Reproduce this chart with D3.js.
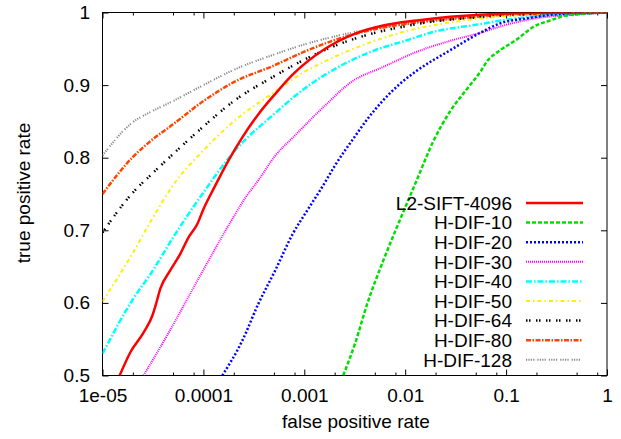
<!DOCTYPE html>
<html>
<head>
<meta charset="utf-8">
<script src="https://cdn.jsdelivr.net/npm/d3@7"></script>
<style>
  html, body { margin: 0; padding: 0; background: #fff; }
  svg { display: block; font-family: "Liberation Sans", Arial, Helvetica, sans-serif; }
</style>
</head>
<body>
<svg id="chart" width="621" height="439"></svg>
<script>
// ---------------- data ----------------
const seriesNames = ["L2-SIFT-4096", "H-DIF-10", "H-DIF-20", "H-DIF-30", "H-DIF-40", "H-DIF-50", "H-DIF-64", "H-DIF-80", "H-DIF-128"];

const xTickValues = [1e-5, 1e-4, 1e-3, 1e-2, 1e-1, 1];
const xTickLabels = ["1e-05", "0.0001", "0.001", "0.01", "0.1", "1"];
const yTickValues = [0.5, 0.6, 0.7, 0.8, 0.9, 1.0];
const yTickLabels = ["0.5", "0.6", "0.7", "0.8", "0.9", "1"];

const fprCommon = [1e-5, 2e-5, 3e-5, 5e-5, 1e-4, 2e-4, 5e-4, 1e-3, 2e-3, 5e-3, 1e-2, 2e-2, 5e-2, 0.1, 0.2, 0.5, 1];
const tpr128 = [0.803, 0.849, 0.863, 0.878, 0.900, 0.921, 0.942, 0.956, 0.967, 0.978, 0.984, 0.990, 0.994, 0.997, 0.998, 0.999, 1.0];
const tpr80  = [0.750, 0.801, 0.823, 0.846, 0.878, 0.904, 0.927, 0.946, 0.962, 0.977, 0.984, 0.989, 0.994, 0.997, 0.998, 0.999, 1.0];
const tpr64  = [0.697, 0.752, 0.776, 0.805, 0.843, 0.878, 0.912, 0.935, 0.954, 0.972, 0.981, 0.988, 0.993, 0.996, 0.998, 0.999, 1.0];
const tpr50  = [0.602, 0.669, 0.712, 0.762, 0.810, 0.850, 0.890, 0.918, 0.939, 0.961, 0.974, 0.983, 0.991, 0.995, 0.998, 0.999, 1.0];
const tpr40  = [0.530, 0.605, 0.640, 0.690, 0.752, 0.808, 0.860, 0.895, 0.922, 0.948, 0.961, 0.974, 0.983, 0.990, 0.995, 0.998, 1.0];

const fprL2 = [1.48e-5, 1.89e-5, 2.55e-5, 3.13e-5, 3.35e-5, 3.75e-5, 4.71e-5, 5.92e-5, 7.1e-5, 8.73e-5, 1e-4, 1.26e-4, 1.77e-4, 2.43e-4, 3.51e-4, 5.16e-4, 7.61e-4, 1.61e-3, 3.2e-3, 6.05e-3, 1.31e-2, 2.79e-2, 5.53e-2, 0.138, 1];
const tprL2 = [0.500, 0.532, 0.559, 0.583, 0.596, 0.620, 0.645, 0.668, 0.690, 0.709, 0.729, 0.757, 0.796, 0.828, 0.860, 0.888, 0.914, 0.950, 0.971, 0.982, 0.989, 0.994, 0.997, 0.999, 1.0];

const fpr30 = [2.55e-5, 4.4e-5, 9.33e-5, 1.85e-4, 2.61e-4, 3.51e-4, 5.16e-4, 7.61e-4, 1.61e-3, 2.9e-3, 6.05e-3, 1.31e-2, 2.79e-2, 5.53e-2, 0.1, 0.198, 0.493, 1];
const tpr30 = [0.500, 0.556, 0.638, 0.711, 0.745, 0.769, 0.803, 0.827, 0.872, 0.904, 0.925, 0.946, 0.961, 0.972, 0.983, 0.992, 0.997, 1.0];

const fpr20 = [1.54e-4, 2.43e-4, 3.51e-4, 5.16e-4, 7.61e-4, 1.1e-3, 1.51e-3, 2.03e-3, 3.2e-3, 4.21e-3, 6.05e-3, 8.91e-3, 1.31e-2, 2.79e-2, 5.53e-2, 8.73e-2, 0.161, 0.343, 1];
const tpr20 = [0.500, 0.548, 0.599, 0.645, 0.694, 0.730, 0.760, 0.790, 0.830, 0.853, 0.879, 0.902, 0.920, 0.948, 0.972, 0.985, 0.992, 0.998, 1.0];

const fpr10 = [2.43e-3, 3.2e-3, 4.21e-3, 6.05e-3, 8.91e-3, 1.31e-2, 1.89e-2, 2.79e-2, 4.11e-2, 5.53e-2, 6.49e-2, 8.73e-2, 0.128, 0.185, 0.273, 0.402, 0.679, 1];
const tpr10 = [0.500, 0.545, 0.599, 0.658, 0.715, 0.770, 0.822, 0.864, 0.895, 0.918, 0.933, 0.948, 0.963, 0.980, 0.989, 0.996, 0.999, 1.0];

// ---------------- styles ----------------
const seriesColors = ["#ff0000", "#00e000", "#0000ff", "#ff00ff", "#00ffff", "#ffee00", "#000000", "#ff4500", "#888888"];
const seriesDash = ["", "4,2", "2,2", "1,1", "6,2,1.5,2", "4,3,1.5,3", "1.5,1.5,1.5,5.5", "5,1.5,1.5,1.5", "1.2,1.2,1.2,1.2,1.2,1.2,1.2,3"];
const seriesWidth = [2.5, 2.5, 2.5, 2, 2.5, 2, 2.5, 2.5, 2];

const seriesData = [
  [fprL2, tprL2], [fpr10, tpr10], [fpr20, tpr20], [fpr30, tpr30],
  [fprCommon, tpr40], [fprCommon, tpr50], [fprCommon, tpr64], [fprCommon, tpr80], [fprCommon, tpr128]
].map(([xs, ys]) => xs.map((x, i) => ({ x, y: ys[i] })));

// ---------------- chart ----------------
const svg = d3.select("#chart");
const L = 102.5, R = 607, T = 12.5, B = 375.5;
const x = d3.scaleLog().domain([1e-5, 1]).range([L, R]);
const y = d3.scaleLinear().domain([0.5, 1]).range([B, T]);
const fontSize = 19;

svg.append("defs").append("clipPath").attr("id", "clip")
  .append("rect").attr("x", L).attr("y", T).attr("width", R - L).attr("height", B - T);

// minor x ticks (2,5,8 per decade)
const minorX = [];
[1e-5, 1e-4, 1e-3, 1e-2, 1e-1].forEach(d => [2, 5, 8].forEach(m => minorX.push(d * m)));

function styleAxis(g) {
  g.select(".domain").remove();
  g.selectAll(".tick line").attr("stroke", "#000").attr("stroke-width", 1);
  g.selectAll("text").attr("font-size", fontSize).attr("fill", "#000").attr("font-family", "Liberation Sans, Arial, sans-serif");
}

svg.append("g").attr("transform", `translate(0,${B})`)
  .call(d3.axisBottom(x).tickValues(xTickValues).tickFormat((d, i) => xTickLabels[i]).tickSizeInner(-6).tickSizeOuter(0).tickPadding(13))
  .call(styleAxis);
svg.append("g").attr("transform", `translate(0,${B})`)
  .call(d3.axisBottom(x).tickValues(minorX).tickFormat("").tickSizeInner(-3).tickSizeOuter(0))
  .call(styleAxis);
svg.append("g").attr("transform", `translate(0,${T})`)
  .call(d3.axisTop(x).tickValues(xTickValues).tickFormat("").tickSizeInner(-6).tickSizeOuter(0))
  .call(styleAxis);
svg.append("g").attr("transform", `translate(0,${T})`)
  .call(d3.axisTop(x).tickValues(minorX).tickFormat("").tickSizeInner(-3).tickSizeOuter(0))
  .call(styleAxis);
svg.append("g").attr("transform", `translate(${L},0)`)
  .call(d3.axisLeft(y).tickValues(yTickValues).tickFormat((d, i) => yTickLabels[i]).tickSizeInner(-6).tickSizeOuter(0).tickPadding(12.5))
  .call(styleAxis);
svg.append("g").attr("transform", `translate(${R},0)`)
  .call(d3.axisRight(y).tickValues(yTickValues).tickFormat("").tickSizeInner(-6).tickSizeOuter(0))
  .call(styleAxis);

svg.append("rect").attr("x", L).attr("y", T).attr("width", R - L).attr("height", B - T)
  .attr("fill", "none").attr("stroke", "#000").attr("stroke-width", 1);

// curves
const line = d3.line().x(d => x(d.x)).y(d => y(d.y)).curve(d3.curveMonotoneX);
const curves = svg.append("g").attr("clip-path", "url(#clip)");
for (let i = seriesData.length - 1; i >= 0; i--) {
  curves.append("path")
    .datum(seriesData[i])
    .attr("d", line)
    .attr("fill", "none")
    .attr("stroke", seriesColors[i])
    .attr("stroke-width", seriesWidth[i])
    .attr("stroke-dasharray", seriesDash[i] || null)
    .attr("stroke-linejoin", "round");
}

// legend
const legendTop = 203, legendStep = 19.6, legendTextX = 512, legendLineX0 = 526, legendLineX1 = 583;
const legend = svg.append("g");
seriesNames.forEach((name, i) => {
  const yy = legendTop + i * legendStep;
  legend.append("text")
    .attr("x", legendTextX).attr("y", yy + 6.8)
    .attr("text-anchor", "end")
    .attr("font-size", fontSize)
    .attr("fill", "#000")
    .text(name);
  legend.append("line")
    .attr("x1", legendLineX0).attr("x2", legendLineX1)
    .attr("y1", yy).attr("y2", yy)
    .attr("stroke", seriesColors[i])
    .attr("stroke-width", seriesWidth[i])
    .attr("stroke-dasharray", seriesDash[i] || null);
});

// axis titles
svg.append("text")
  .attr("x", 356).attr("y", 428)
  .attr("text-anchor", "middle")
  .attr("font-size", fontSize)
  .attr("fill", "#000")
  .text("false positive rate");

svg.append("text")
  .attr("transform", "translate(30,193) rotate(-90)")
  .attr("text-anchor", "middle")
  .attr("font-size", fontSize)
  .attr("fill", "#000")
  .text("true positive rate");
</script>
</body>
</html>
